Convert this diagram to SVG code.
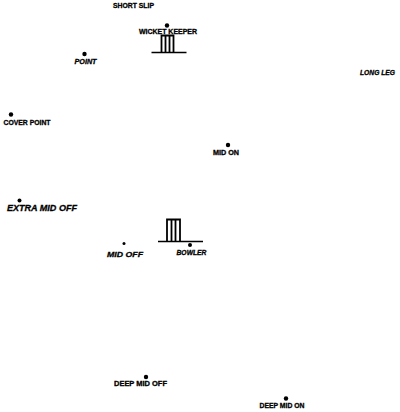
<svg xmlns="http://www.w3.org/2000/svg" width="400" height="412" viewBox="0 0 400 412">
<style>
text{font-family:"Liberation Sans",Arial,sans-serif;font-weight:700;fill:#000;stroke:#000;stroke-width:.3;font-size:7px}
.i{font-style:italic}
.d{fill:#000}
.l{stroke:#000;stroke-width:1.3;fill:none}
.w{stroke:#000;stroke-width:1.8;fill:none}
</style>
<rect width="400" height="412" fill="#fff"/>
<g id="short-slip"><text x="113" y="8" textLength="41" lengthAdjust="spacingAndGlyphs">SHORT SLIP</text></g>
<g id="wicket-keeper"><circle class="d" cx="167" cy="25.500" r="2.200"/><text x="139" y="33.500" textLength="58" lengthAdjust="spacing">WICKET KEEPER</text></g>
<g id="wicket-top"><path class="l" d="M151.500 52.500H186.500"/><path class="w" d="M161.500 52V35.500H173.500V52"/><path class="w" d="M165.500 36V52M169.500 36V52"/></g>
<g id="point"><circle class="d" cx="84.500" cy="54" r="2.200"/><text class="i" x="74.500" y="64" textLength="22" lengthAdjust="spacingAndGlyphs">POINT</text></g>
<g id="long-leg"><text class="i" x="360" y="74.500" textLength="35" lengthAdjust="spacingAndGlyphs">LONG LEG</text></g>
<g id="cover-point"><circle class="d" cx="11" cy="114.500" r="2.200"/><text x="3.500" y="125" textLength="47" lengthAdjust="spacingAndGlyphs">COVER POINT</text></g>
<g id="mid-on"><circle class="d" cx="228" cy="145" r="2.200"/><text x="213" y="154.500" textLength="26" lengthAdjust="spacingAndGlyphs">MID ON</text></g>
<g id="extra-mid-off"><circle class="d" cx="19.500" cy="200.500" r="2"/><text class="i" x="7" y="211" style="font-size:9px" textLength="70" lengthAdjust="spacingAndGlyphs">EXTRA MID OFF</text></g>
<g id="wicket-bottom"><path class="l" d="M158 241.500H203"/><path class="w" d="M167 241V219.500H180V241"/><path class="w" d="M171.500 220V241M175.500 220V241"/></g>
<g id="mid-off"><circle class="d" cx="124" cy="243.500" r="1.500"/><text class="i" x="107" y="256.500" style="font-size:8px" textLength="36" lengthAdjust="spacingAndGlyphs">MID OFF</text></g>
<g id="bowler"><circle class="d" cx="190" cy="245" r="2"/><text class="i" x="176.500" y="254.500" textLength="30" lengthAdjust="spacingAndGlyphs">BOWLER</text></g>
<g id="deep-mid-off"><circle class="d" cx="146" cy="377" r="2.200"/><text x="114" y="386" textLength="53" lengthAdjust="spacingAndGlyphs">DEEP MID OFF</text></g>
<g id="deep-mid-on"><circle class="d" cx="286" cy="398.500" r="2.200"/><text x="259.500" y="407.500" textLength="45" lengthAdjust="spacingAndGlyphs">DEEP MID ON</text></g>
<g id="connectors"></g>
</svg>
